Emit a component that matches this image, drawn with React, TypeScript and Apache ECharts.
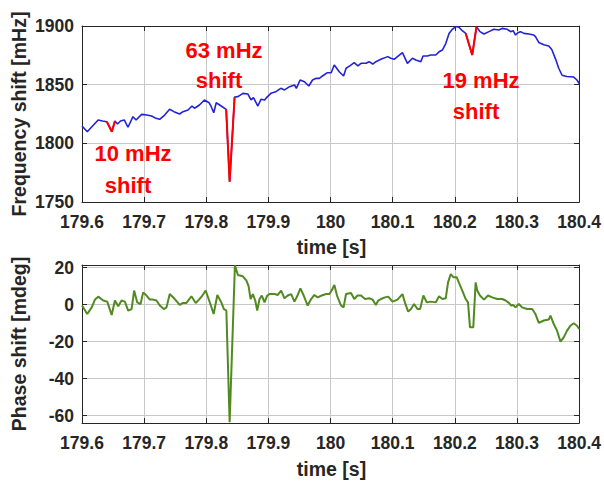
import React, { useEffect, useRef } from "react";
import * as echarts from "echarts";

// ---- Data ----
const freqTime = [
  179.6, 179.6085, 179.617, 179.626, 179.633, 179.64, 179.648, 179.653, 179.657, 179.662,
  179.668, 179.674, 179.682, 179.687, 179.696, 179.704, 179.712, 179.719, 179.725, 179.733,
  179.741, 179.748, 179.757, 179.7626, 179.7706, 179.777, 179.781, 179.789, 179.797, 179.8045,
  179.808, 179.812, 179.816, 179.824, 179.832, 179.8376, 179.8456, 179.851, 179.859, 179.867,
  179.872, 179.876, 179.883, 179.888, 179.894, 179.897, 179.904, 179.912, 179.92, 179.926,
  179.934, 179.942, 179.945, 179.951, 179.958, 179.965, 179.971, 179.977, 179.982, 179.987,
  179.995, 180.001, 180.006, 180.014, 180.021, 180.025, 180.031, 180.038, 180.044, 180.049,
  180.057, 180.062, 180.068, 180.073, 180.081, 180.092, 180.097, 180.1024, 180.1077, 180.1157,
  180.1237, 180.1318, 180.1372, 180.1453, 180.1489, 180.1558, 180.1613, 180.1693, 180.1746, 180.1799,
  180.1854, 180.1907, 180.196, 180.2014, 180.2067, 180.212, 180.2175, 180.228, 180.2349, 180.2404,
  180.2469, 180.2549, 180.2629, 180.2709, 180.2762, 180.2843, 180.2897, 180.2939, 180.2977, 180.3014,
  180.3058, 180.3111, 180.3191, 180.3271, 180.3298, 180.3351, 180.3432, 180.3512, 180.356, 180.362,
  180.3672, 180.3726, 180.3801, 180.3913, 180.3966, 180.4,
];
const freqValue = [
  1814.8, 1809.9, 1814.8, 1819.9, 1819, 1818.4, 1809.9, 1819, 1816.5, 1819,
  1819.9, 1813.7, 1822.7, 1819.9, 1824.7, 1824.1, 1823.3, 1821.3, 1820.5, 1824.1,
  1829, 1827, 1825, 1827, 1828.4, 1831.8, 1829.9, 1832.7, 1836.9, 1834.6,
  1831.2, 1826.1, 1834.6, 1831.8, 1829, 1767.3, 1839.5, 1839.8, 1842.6, 1842,
  1837, 1839, 1831.8, 1837.5, 1837, 1839, 1842.6, 1844, 1846.9, 1845.5,
  1848.3, 1849.7, 1846.9, 1854, 1852.5, 1848.9, 1854, 1855.4, 1855.4, 1857.4,
  1860.2, 1860.2, 1866.8, 1861, 1857.4, 1864, 1866, 1868.7, 1866, 1868.2,
  1868.2, 1869.6, 1867.6, 1869.6, 1871.6, 1873.9, 1872.5, 1871.6, 1873.9, 1877.3,
  1868.2, 1872.5, 1871, 1869.6, 1874.4, 1874.4, 1875.3, 1875.3, 1878, 1879.5,
  1885, 1893.7, 1897.2, 1899.5, 1898.9, 1896, 1893.7, 1875.3, 1899.4, 1895.2,
  1893.2, 1895.2, 1897.2, 1896.6, 1898, 1897.2, 1895.2, 1896, 1892.3, 1894.3,
  1895.2, 1893.7, 1893.2, 1892.3, 1891, 1886, 1884, 1883, 1880, 1872,
  1864, 1858, 1857, 1856.5, 1854, 1851,
];

// red highlighted shifts (time, value)
const shift10Time = [179.64, 179.648, 179.653];
const shift10Value = [1818.4, 1809.9, 1819];
const shift63Time = [179.832, 179.8376, 179.8456];
const shift63Value = [1829, 1767.3, 1839.5];
const shift19Time = [180.2175, 180.228, 180.2349];
const shift19Value = [1893.7, 1875.3, 1899.4];

const phaseTime = [
  179.6, 179.6085, 179.6156, 179.6209, 179.6262, 179.6342, 179.6406, 179.6477, 179.653, 179.6583,
  179.6637, 179.669, 179.6743, 179.6798, 179.6839, 179.6888, 179.6942, 179.6984, 179.7039, 179.7091,
  179.7144, 179.7199, 179.7252, 179.7316, 179.736, 179.7412, 179.7493, 179.7573, 179.7626, 179.7681,
  179.7761, 179.783, 179.7883, 179.7937, 179.799, 179.8066, 179.8119, 179.8178, 179.8242, 179.8284,
  179.8323, 179.8376, 179.8461, 179.8509, 179.8589, 179.8644, 179.8681, 179.8713, 179.875, 179.8788,
  179.882, 179.8857, 179.8894, 179.8937, 179.8981, 179.9018, 179.9098, 179.9151, 179.9205, 179.9258,
  179.9311, 179.9366, 179.9419, 179.9472, 179.9515, 179.9568, 179.9632, 179.9687, 179.974, 179.9793,
  179.9857, 179.9928, 179.9981, 180.0018, 180.0061, 180.0104, 180.0169, 180.021, 180.0249, 180.0329,
  180.0382, 180.0435, 180.049, 180.0554, 180.0623, 180.0676, 180.073, 180.0767, 180.0811, 180.0875,
  180.0928, 180.0997, 180.1077, 180.1157, 180.1196, 180.1249, 180.1292, 180.1345, 180.1398, 180.1441,
  180.1494, 180.1549, 180.1613, 180.1693, 180.1746, 180.1799, 180.1854, 180.1891, 180.1934, 180.1976,
  180.203, 180.2067, 180.212, 180.2175, 180.2212, 180.2244, 180.2297, 180.2335, 180.2361, 180.2404,
  180.2469, 180.2533, 180.2602, 180.2682, 180.2762, 180.2817, 180.287, 180.2907, 180.2939, 180.2977,
  180.303, 180.3083, 180.3163, 180.3244, 180.3298, 180.3351, 180.3432, 180.3512, 180.3539, 180.3592,
  180.3645, 180.37, 180.3753, 180.3806, 180.386, 180.3913, 180.3966, 180.4,
];
const phaseValue = [
  -0.5, -5.1, -1.5, 2.7, 4.3, 2.2, 1.6, -5.6, 2.2, -0.9,
  2.2, 1.6, -3.3, -2.4, 7.6, 1.2, 0.3, 6.6, 4.9, 2.7,
  2.7, 2.2, -0.5, -2.4, -1.5, 5.7, 3, -0.2, 0.9, 0.9,
  4.5, 0.9, 2.7, 4.9, 7.6, 0.3, -5.1, 5.2, 1.2, -2.4,
  -3.2, -63.6, 21.2, 16, 15.3, 13.1, 10, 3, 5.7, 2.2,
  -3.2, 3, 4.9, 1.2, 4.9, 5.7, 5.7, 5.2, 7.6, 3.4,
  4.9, 5.7, 1.6, 5.2, 8.8, 4.9, -0.5, 3, 5.2, 3.9,
  4.9, 5.7, 5.7, 7.6, 10.6, 4.9, -0.5, -1.5, 5.7, 6.3,
  3, 4.9, 4.9, 3, 3.4, 2.7, -0.2, 2.2, 3, 3.9,
  4.3, 1.6, 2.7, 5.7, 1.2, -3.8, -2.5, 0.3, -2.4, -2.4,
  4.9, 1.2, 1.6, 1.2, 4.5, 3, 3.4, 12, 16.5, 14.8,
  14.8, 11.7, 7.6, 3, 1.2, -12.3, -12.3, 12, 7.6, 4.9,
  2.7, 4.9, 3.9, 3, 3, 2.2, 0.9, -0.5, -0.2, -1.5,
  0.3, -1.5, -2.4, -2.4, -5.1, -9.9, -8.6, -8.1, -5.9, -10.5,
  -14.1, -20, -17.7, -14.1, -11.4, -10.1, -11.4, -13.2,
];

// axis ranges
const timeRange = [179.6, 180.4];
const freqRange = [1750, 1900];
const phaseRange = [-64, 21.4];

const pairs = (t: number[], v: number[]) => t.map((x, i) => [x, v[i]]);

const AXIS = "#262626";
const GRID = "#c8c8c8";
const FONT = "Arial, 'Liberation Sans', Helvetica, sans-serif";

export default function App() {
  const ref = useRef<HTMLDivElement>(null);
  useEffect(() => {
    if (!ref.current) return;
    const chart = echarts.init(ref.current, undefined, { renderer: "svg" });

    const tickLabel = {
      color: AXIS,
      fontFamily: FONT,
      fontWeight: "bold" as const,
      fontSize: 17.5,
    };
    const fmtTime = (v: number) => String(parseFloat(Number(v).toFixed(1)));

    const xAxis = (gridIndex: number, bottom: boolean) => ({
      type: "value",
      gridIndex,
      position: bottom ? "bottom" : "top",
      min: timeRange[0],
      max: timeRange[1],
      interval: 0.1,
      axisLine: { show: true, onZero: false, lineStyle: { color: AXIS, width: 1 } },
      axisTick: { show: true, inside: true, length: 5, lineStyle: { color: AXIS } },
      axisLabel: bottom ? { ...tickLabel, margin: 11, formatter: fmtTime } : { show: false },
      splitLine: bottom ? { show: true, lineStyle: { color: GRID, width: 1 } } : { show: false },
    });
    const yAxis = (gridIndex: number, range: number[], left: boolean, extra: object) => ({
      type: "value",
      gridIndex,
      position: left ? "left" : "right",
      min: range[0],
      max: range[1],
      ...extra,
      axisLine: { show: true, onZero: false, lineStyle: { color: AXIS, width: 1 } },
      axisTick: { show: true, inside: true, length: 5, lineStyle: { color: AXIS } },
      axisLabel: left
        ? {
            ...tickLabel,
            margin: 8,
            showMinLabel: !("splitNumber" in extra),
            showMaxLabel: !("splitNumber" in extra),
            formatter: (v: number) => String(v),
          }
        : { show: false },
      splitLine: left ? { show: true, lineStyle: { color: GRID, width: 1 } } : { show: false },
    });

    const redSeries = (t: number[], v: number[]) => ({
      type: "line",
      xAxisIndex: 0,
      yAxisIndex: 0,
      data: pairs(t, v),
      showSymbol: false,
      symbol: "none",
      lineStyle: { color: "#ff0000", width: 2 },
      z: 5,
    });

    const annot = (text: string, x: number, y: number) => ({
      type: "text",
      x,
      y,
      style: {
        text,
        fill: "#ff0000",
        fontFamily: FONT,
        fontWeight: "bold",
        fontSize: 22,
        align: "center",
        verticalAlign: "middle",
      },
      z: 100,
    });
    const title = (text: string, x: number, y: number, rot: number) => ({
      type: "text",
      x,
      y,
      rotation: rot,
      style: {
        text,
        fill: AXIS,
        fontFamily: FONT,
        fontWeight: "bold",
        fontSize: 19.5,
        align: "center",
        verticalAlign: "middle",
      },
      z: 100,
    });

    chart.setOption({
      animation: false,
      grid: [
        { left: 82, top: 26, width: 499, height: 176 },
        { left: 82, top: 265, width: 499, height: 158 },
      ],
      xAxis: [xAxis(0, true), xAxis(0, false), xAxis(1, true), xAxis(1, false)],
      yAxis: [
        yAxis(0, freqRange, true, { interval: 50 }),
        yAxis(0, freqRange, false, { interval: 50 }),
        yAxis(1, phaseRange, true, { splitNumber: 5 }),
        yAxis(1, phaseRange, false, { splitNumber: 5 }),
      ],
      series: [
        {
          type: "line",
          xAxisIndex: 0,
          yAxisIndex: 0,
          data: pairs(freqTime, freqValue),
          showSymbol: false,
          symbol: "none",
          lineStyle: { color: "#2222d6", width: 1.6 },
          z: 3,
        },
        redSeries(shift10Time, shift10Value),
        redSeries(shift63Time, shift63Value),
        redSeries(shift19Time, shift19Value),
        {
          type: "line",
          xAxisIndex: 2,
          yAxisIndex: 2,
          data: pairs(phaseTime, phaseValue),
          showSymbol: false,
          symbol: "none",
          lineStyle: { color: "#528a22", width: 2 },
          z: 3,
        },
      ],
      graphic: [
        annot("63 mHz", 224, 50),
        annot("shift", 219, 80),
        annot("10 mHz", 133, 153),
        annot("shift", 128, 185),
        annot("19 mHz", 481, 80),
        annot("shift", 476, 111),
        title("Frequency shift [mHz]", 18.5, 114, Math.PI / 2),
        title("Phase shift [mdeg]", 18.5, 344, Math.PI / 2),
        title("time [s]", 331.5, 247, 0),
        title("time [s]", 331.5, 469, 0),
      ],
    });
    return () => chart.dispose();
  }, []);
  return (
    <div
      ref={ref}
      style={{ position: "fixed", left: 0, top: 0, width: 604, height: 481, background: "#fff" }}
    />
  );
}
